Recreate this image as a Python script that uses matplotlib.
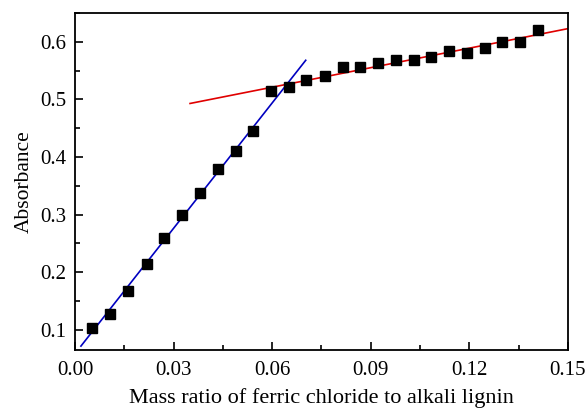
import numpy as np
import matplotlib
matplotlib.use("Agg")
import matplotlib.pyplot as plt
from matplotlib.ticker import MultipleLocator, FormatStrFormatter

plt.rcParams["font.family"] = ["Liberation Serif", "DejaVu Serif"]

# mass ratio (x) and absorbance (y)
mass_ratio = [0.0052, 0.0106, 0.0160, 0.0218, 0.0270, 0.0325, 0.0380, 0.0435,
              0.0490, 0.0541, 0.0596, 0.0651, 0.0703, 0.0760, 0.0815, 0.0867,
              0.0922, 0.0976, 0.1031, 0.1083, 0.1138, 0.1192, 0.1247, 0.1299,
              0.1354, 0.1408]
absorbance = [0.104, 0.127, 0.168, 0.215, 0.259, 0.300, 0.337, 0.380,
              0.411, 0.446, 0.514, 0.521, 0.533, 0.540, 0.556, 0.556,
              0.563, 0.569, 0.569, 0.573, 0.584, 0.580, 0.590, 0.600,
              0.600, 0.621]

n_low = 10  # points in the steep part
low_range = (0.0018, 0.0702)
high_range = (0.035, 0.15)

x = np.array(mass_ratio)
y = np.array(absorbance)
p_low = np.polyfit(x[:n_low], y[:n_low], 1)
p_high = np.polyfit(x[n_low:], y[n_low:], 1)

fig = plt.figure(figsize=(5.87, 4.09), dpi=100)
ax = fig.add_axes([0.1278, 0.1443, 0.8398, 0.8237])

xl = np.linspace(*low_range, 2)
xh = np.linspace(*high_range, 2)
ax.plot(xl, np.polyval(p_low, xl), color="#0000c0", lw=1.2)
ax.plot(xh, np.polyval(p_high, xh), color="#e00000", lw=1.2)
ax.plot(x, y, "s", color="black", ms=6.5, zorder=3)

ax.set_xlim(0, 0.15)
ax.set_ylim(0.065, 0.65)
ax.xaxis.set_major_locator(MultipleLocator(0.03))
ax.xaxis.set_minor_locator(MultipleLocator(0.015))
ax.yaxis.set_major_locator(MultipleLocator(0.1))
ax.yaxis.set_minor_locator(MultipleLocator(0.05))
ax.xaxis.set_major_formatter(FormatStrFormatter("%.2f"))
ax.yaxis.set_major_formatter(FormatStrFormatter("%.1f"))
ax.tick_params(which="both", direction="in", top=False, right=False,
               labelsize=15, width=1.2)
ax.tick_params(which="major", length=6, pad=6)
ax.tick_params(axis="x", which="major", pad=8)
ax.tick_params(which="minor", length=3.5)
for s in ax.spines.values():
    s.set_linewidth(1.3)

ax.set_xlabel("Mass ratio of ferric chloride to alkali lignin", fontsize=16, labelpad=6)
ax.set_ylabel("Absorbance", fontsize=15.5, labelpad=5)

fig.savefig("out.png", dpi=100)
